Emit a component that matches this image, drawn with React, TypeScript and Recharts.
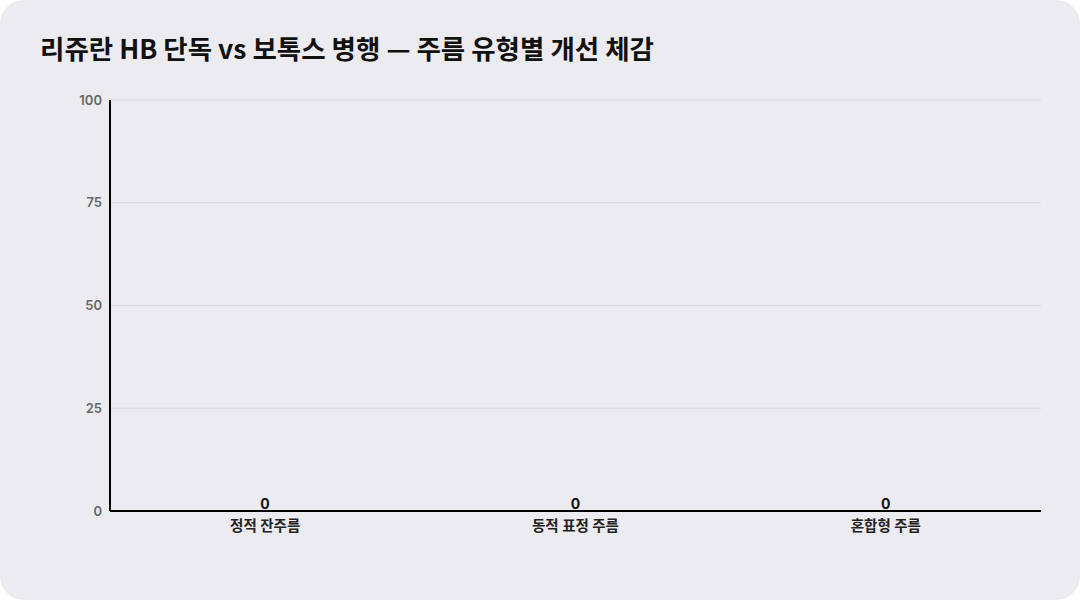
import React from 'react';
import { BarChart, Bar, XAxis, YAxis, CartesianGrid, LabelList } from 'recharts';

const TITLE = '리쥬란 HB 단독 vs 보톡스 병행 — 주름 유형별 개선 체감';
const categories = ['정적 잔주름', '동적 표정 주름', '혼합형 주름'];
const improvement = [0, 0, 0];
const yTicks = [0, 25, 50, 75, 100];

const data = categories.map((name, i) => ({ name, value: improvement[i] }));

const FONT = 'Inter, "Noto Sans CJK KR", "Noto Sans", sans-serif';

const renderValue = (props: any) => {
  const { x, y, width, value } = props;
  return (
    <text
      x={Number(x) + Number(width) / 2}
      y={Number(y) - 1}
      textAnchor="middle"
      fill="#111"
      fontSize={14}
      fontWeight={700}
      fontFamily={FONT}
    >
      {value}
    </text>
  );
};

export default function App() {
  return (
    <div style={{ width: 1080, height: 600, position: 'relative', background: '#fff' }}>
      <style>{'body{margin:0}'}</style>
      <div
        style={{
          position: 'absolute',
          inset: 0,
          background: '#ECEBF0',
          borderRadius: 24,
          fontFamily: FONT,
        }}
      >
        <div
          style={{
            position: 'absolute',
            left: 40,
            top: 28,
            fontSize: 26.5,
            fontWeight: 700,
            color: '#111',
            fontFamily: '"Noto Sans CJK KR", Inter, sans-serif',
          }}
        >
          {TITLE}
        </div>
        <div style={{ position: 'absolute', left: 0, top: 0 }}>
          <BarChart
            width={1080}
            height={600}
            data={data}
            margin={{ top: 100, right: 39, bottom: 59, left: 0 }}
          >
            <CartesianGrid vertical={false} stroke="#D9D8DE" />
            <XAxis
              dataKey="name"
              axisLine={{ stroke: '#000', strokeWidth: 2 }}
              tickLine={false}
              tickMargin={4}
              tick={{ fill: '#222', fontSize: 14.5, fontWeight: 700, fontFamily: FONT }}
            />
            <YAxis
              width={110}
              domain={[0, 100]}
              ticks={yTicks}
              axisLine={{ stroke: '#000', strokeWidth: 2 }}
              tickLine={false}
              tick={{ fill: '#666', fontSize: 13, fontWeight: 600, fontFamily: FONT }}
            />
            <Bar dataKey="value" fill="#000" minPointSize={1} isAnimationActive={false}>
              <LabelList dataKey="value" content={renderValue} />
            </Bar>
          </BarChart>
        </div>
      </div>
    </div>
  );
}
